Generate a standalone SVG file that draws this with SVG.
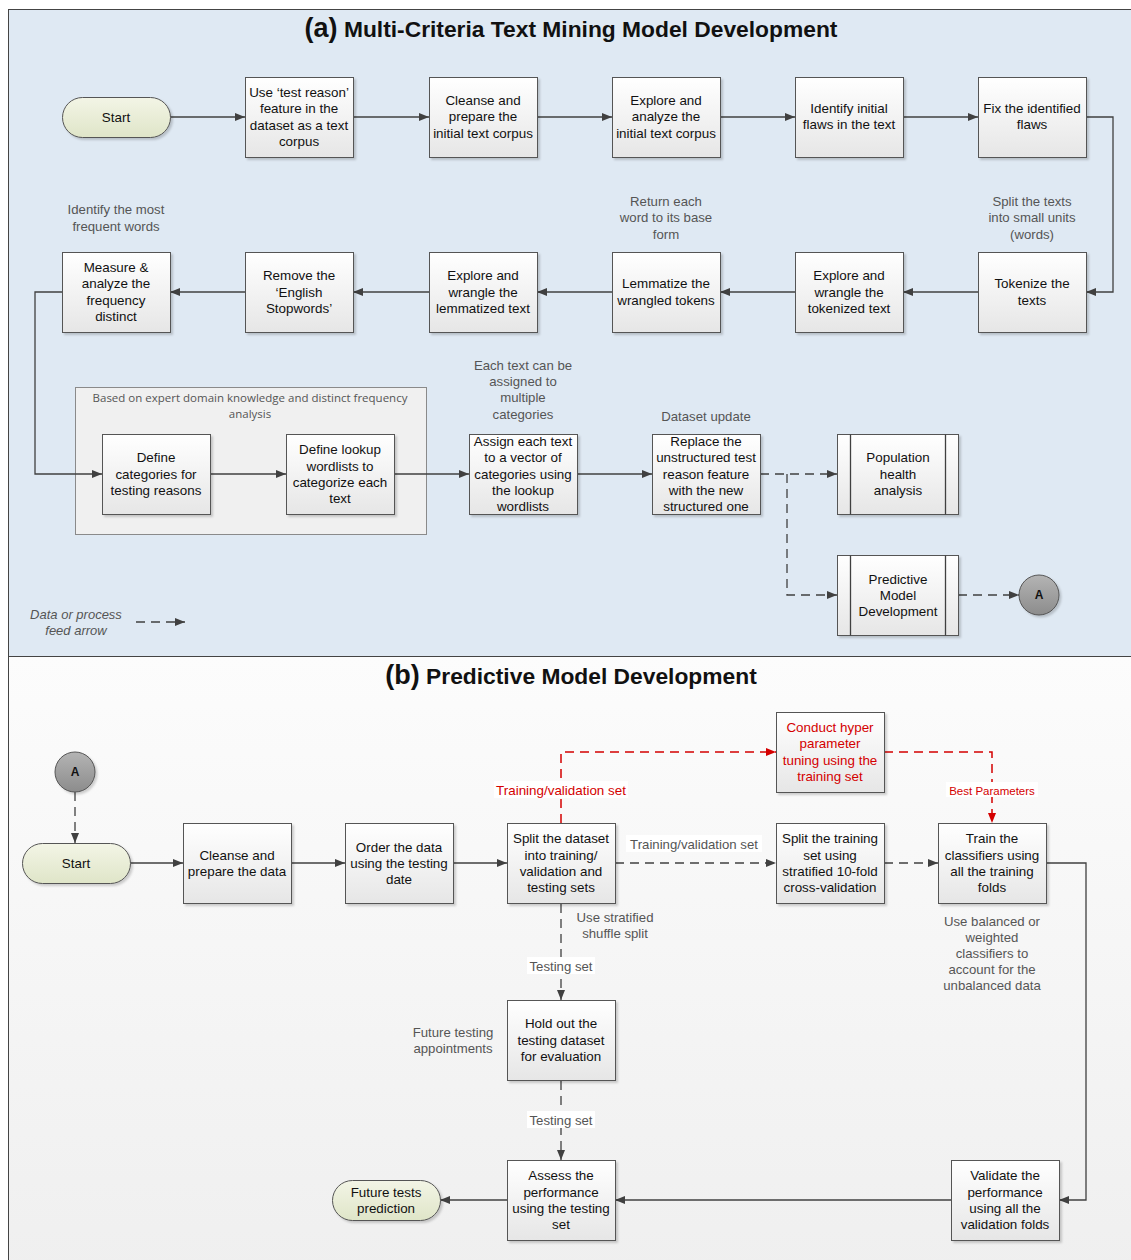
<svg xmlns="http://www.w3.org/2000/svg" width="1131" height="1260" viewBox="0 0 1131 1260">
<style>
.nt{font-family:"Liberation Sans",Arial,sans-serif;font-size:13.4px;fill:#111;text-anchor:middle}
.an{font-family:"Liberation Sans",Arial,sans-serif;font-size:13.2px;fill:#555;text-anchor:middle}
.rd{font-family:"Liberation Sans",Arial,sans-serif;font-size:13.4px;fill:#d40000;text-anchor:middle}
.ttl{font-family:"Liberation Sans",Arial,sans-serif;font-weight:bold;fill:#111;text-anchor:middle}
.box{fill:url(#gBox);stroke:#555;stroke-width:1;filter:url(#sh)}
.pill{fill:url(#gPill);stroke:#555;stroke-width:1;filter:url(#sh)}
.circ{fill:url(#gCirc);stroke:#555;stroke-width:1;filter:url(#sh)}
.ln{fill:none;stroke:#404040;stroke-width:1.3}
.sol{fill:none;stroke:#404040;stroke-width:1.3;marker-end:url(#ah)}
.dsh{fill:none;stroke:#404040;stroke-width:1.3;stroke-dasharray:9,6;marker-end:url(#ah)}
.redA{fill:none;stroke:#d40000;stroke-width:1.5;stroke-dasharray:9,6;marker-end:url(#ahr)}
.lbg{fill:#ffffff}
</style>
<defs>
<linearGradient id="gBox" x1="0" y1="0" x2="0" y2="1"><stop offset="0" stop-color="#ffffff"/><stop offset="1" stop-color="#e6e6e6"/></linearGradient>
<linearGradient id="gPill" x1="0" y1="0" x2="0" y2="1"><stop offset="0" stop-color="#f3f5e6"/><stop offset="1" stop-color="#dfe5c8"/></linearGradient>
<linearGradient id="gCirc" x1="0" y1="0" x2="0" y2="1"><stop offset="0" stop-color="#b4b4b4"/><stop offset="1" stop-color="#8c8c8c"/></linearGradient>
<linearGradient id="gB" x1="0" y1="0" x2="0" y2="1"><stop offset="0" stop-color="#fcfcfc"/><stop offset="1" stop-color="#efefef"/></linearGradient>
<filter id="sh" x="-10%" y="-10%" width="130%" height="130%"><feDropShadow dx="2" dy="2" stdDeviation="1.2" flood-color="#000" flood-opacity="0.18"/></filter>
<marker id="ah" markerWidth="10" markerHeight="8" refX="10" refY="4" orient="auto" markerUnits="userSpaceOnUse"><path d="M0,0 L10,4 L0,8 Z" fill="#404040"/></marker>
<marker id="ahr" markerWidth="10" markerHeight="8" refX="10" refY="4" orient="auto" markerUnits="userSpaceOnUse"><path d="M0,0 L10,4 L0,8 Z" fill="#d40000"/></marker>
</defs>

<!-- panels -->
<rect x="0" y="0" width="1131" height="1260" fill="#ffffff"/>
<rect x="8.5" y="9.5" width="1140" height="647" fill="#dfe9f3" stroke="#444" stroke-width="1"/>
<rect x="8.5" y="656.5" width="1140" height="620" fill="url(#gB)" stroke="#444" stroke-width="1"/>

<text class="ttl" x="571" y="37"><tspan font-size="27">(a)</tspan><tspan font-size="22.8"> Multi-Criteria Text Mining Model Development</tspan></text>
<text class="ttl" x="571" y="684"><tspan font-size="27">(b)</tspan><tspan font-size="22.8"> Predictive Model Development</tspan></text>

<!-- group container -->
<g id="container">
<rect x="75.5" y="387.5" width="351" height="147" fill="#f0f0f0" stroke="#8a8a8a" stroke-width="1"/>
<text font-family="'Open Sans','Liberation Sans',sans-serif" font-size="11.5" fill="#555" text-anchor="middle"><tspan x="250" y="402">Based on expert domain knowledge and distinct frequency</tspan><tspan x="250" y="418">analysis</tspan></text>
</g>

<!-- connectors -->
<g id="connectors">
<path class="sol" d="M170,117 H245"/>
<path class="sol" d="M353,117 H429"/>
<path class="sol" d="M537,117 H612"/>
<path class="sol" d="M720,117 H795"/>
<path class="sol" d="M903,117 H978"/>
<path class="sol" d="M1086,117 H1113 V292 H1086"/>
<path class="sol" d="M978,292 H903"/>
<path class="sol" d="M795,292 H720"/>
<path class="sol" d="M612,292 H537"/>
<path class="sol" d="M429,292 H353"/>
<path class="sol" d="M245,292 H170"/>
<path class="sol" d="M62,292 H35 V474 H102"/>
<path class="sol" d="M210,474 H286"/>
<path class="sol" d="M394,474 H469"/>
<path class="sol" d="M577,474 H652"/>
<path class="dsh" d="M760,474 H837"/>
<path class="dsh" d="M787,474 V595 H837"/>
<path class="dsh" d="M958,595 H1019"/>
<path class="dsh" d="M136,622 H185"/>

<!-- panel b -->
<path class="dsh" d="M75,792 V843"/>
<path class="sol" d="M130,863 H183"/>
<path class="sol" d="M291,863 H345"/>
<path class="sol" d="M453,863 H507"/>
<path class="dsh" d="M615,863 H776"/>
<path class="dsh" d="M884,863 H938"/>
<path class="redA" d="M561,823 V752 H776"/>
<path class="redA" d="M884,752 H992 V823"/>
<path class="sol" d="M1046,863 H1086 V1200 H1059"/>
<path class="sol" d="M951,1200 H615"/>
<path class="sol" d="M507,1200 H440"/>
<path class="dsh" d="M561,904 V1000"/>
<path class="dsh" d="M561,1081 V1160"/>
</g>

<!-- legend -->
<text font-family="'Liberation Sans',Arial,sans-serif" font-size="13" font-style="italic" fill="#555" text-anchor="middle"><tspan x="76" y="619">Data or process</tspan><tspan x="76" y="635">feed arrow</tspan></text>

<!-- annotations panel a -->
<text class="an"><tspan x="116" y="214">Identify the most</tspan><tspan x="116" y="231">frequent words</tspan></text>
<text class="an"><tspan x="666" y="206">Return each</tspan><tspan x="666" y="222">word to its base</tspan><tspan x="666" y="239">form</tspan></text>
<text class="an"><tspan x="1032" y="206">Split the texts</tspan><tspan x="1032" y="222">into small units</tspan><tspan x="1032" y="239">(words)</tspan></text>
<text class="an"><tspan x="523" y="370">Each text can be</tspan><tspan x="523" y="386">assigned to</tspan><tspan x="523" y="402">multiple</tspan><tspan x="523" y="419">categories</tspan></text>
<text class="an" x="706" y="421">Dataset update</text>

<!-- nodes panel a -->
<g id="start-a"><rect class="pill" x="62.5" y="97.5" width="108" height="40" rx="20"/><text class="nt" x="116" y="122">Start</text></g>
<g id="n1"><rect class="box" x="245.5" y="77.5" width="108" height="80"/><text class="nt"><tspan x="299" y="97">Use ‘test reason’</tspan><tspan x="299" y="113">feature in the</tspan><tspan x="299" y="130">dataset as a text</tspan><tspan x="299" y="146">corpus</tspan></text></g>
<g id="n2"><rect class="box" x="429.5" y="77.5" width="108" height="80"/><text class="nt"><tspan x="483" y="105">Cleanse and</tspan><tspan x="483" y="121">prepare the</tspan><tspan x="483" y="138">initial text corpus</tspan></text></g>
<g id="n3"><rect class="box" x="612.5" y="77.5" width="108" height="80"/><text class="nt"><tspan x="666" y="105">Explore and</tspan><tspan x="666" y="121">analyze the</tspan><tspan x="666" y="138">initial text corpus</tspan></text></g>
<g id="n4"><rect class="box" x="795.5" y="77.5" width="108" height="80"/><text class="nt"><tspan x="849" y="113">Identify initial</tspan><tspan x="849" y="129">flaws in the text</tspan></text></g>
<g id="n5"><rect class="box" x="978.5" y="77.5" width="108" height="80"/><text class="nt"><tspan x="1032" y="113">Fix the identified</tspan><tspan x="1032" y="129">flaws</tspan></text></g>

<g id="n6"><rect class="box" x="978.5" y="252.5" width="108" height="80"/><text class="nt"><tspan x="1032" y="288">Tokenize the</tspan><tspan x="1032" y="305">texts</tspan></text></g>
<g id="n7"><rect class="box" x="795.5" y="252.5" width="108" height="80"/><text class="nt"><tspan x="849" y="280">Explore and</tspan><tspan x="849" y="297">wrangle the</tspan><tspan x="849" y="313">tokenized text</tspan></text></g>
<g id="n8"><rect class="box" x="612.5" y="252.5" width="108" height="80"/><text class="nt"><tspan x="666" y="288">Lemmatize the</tspan><tspan x="666" y="305">wrangled tokens</tspan></text></g>
<g id="n9"><rect class="box" x="429.5" y="252.5" width="108" height="80"/><text class="nt"><tspan x="483" y="280">Explore and</tspan><tspan x="483" y="297">wrangle the</tspan><tspan x="483" y="313">lemmatized text</tspan></text></g>
<g id="n10"><rect class="box" x="245.5" y="252.5" width="108" height="80"/><text class="nt"><tspan x="299" y="280">Remove the</tspan><tspan x="299" y="297">‘English</tspan><tspan x="299" y="313">Stopwords’</tspan></text></g>
<g id="n11"><rect class="box" x="62.5" y="252.5" width="108" height="80"/><text class="nt"><tspan x="116" y="272">Measure &amp;</tspan><tspan x="116" y="288">analyze the</tspan><tspan x="116" y="305">frequency</tspan><tspan x="116" y="321">distinct</tspan></text></g>

<g id="n12"><rect class="box" x="102.5" y="434.5" width="108" height="80"/><text class="nt"><tspan x="156" y="462">Define</tspan><tspan x="156" y="479">categories for</tspan><tspan x="156" y="495">testing reasons</tspan></text></g>
<g id="n13"><rect class="box" x="286.5" y="434.5" width="108" height="80"/><text class="nt"><tspan x="340" y="454">Define lookup</tspan><tspan x="340" y="471">wordlists to</tspan><tspan x="340" y="487">categorize each</tspan><tspan x="340" y="503">text</tspan></text></g>
<g id="n14"><rect class="box" x="469.5" y="434.5" width="108" height="80"/><text class="nt"><tspan x="523" y="446">Assign each text</tspan><tspan x="523" y="462">to a vector of</tspan><tspan x="523" y="479">categories using</tspan><tspan x="523" y="495">the lookup</tspan><tspan x="523" y="511">wordlists</tspan></text></g>
<g id="n15"><rect class="box" x="652.5" y="434.5" width="108" height="80"/><text class="nt"><tspan x="706" y="446">Replace the</tspan><tspan x="706" y="462">unstructured test</tspan><tspan x="706" y="479">reason feature</tspan><tspan x="706" y="495">with the new</tspan><tspan x="706" y="511">structured one</tspan></text></g>
<g id="n16"><rect class="box" x="837.5" y="434.5" width="121" height="80"/><path class="ln" d="M850.5,434.5 V514.5 M945.5,434.5 V514.5" stroke-width="1"/><text class="nt"><tspan x="898" y="462">Population</tspan><tspan x="898" y="479">health</tspan><tspan x="898" y="495">analysis</tspan></text></g>
<g id="n17"><rect class="box" x="837.5" y="555.5" width="121" height="80"/><path class="ln" d="M850.5,555.5 V635.5 M945.5,555.5 V635.5" stroke-width="1"/><text class="nt"><tspan x="898" y="584">Predictive</tspan><tspan x="898" y="600">Model</tspan><tspan x="898" y="616">Development</tspan></text></g>
<g id="a-out"><circle class="circ" cx="1039" cy="595" r="20"/><text font-family="'Liberation Sans',Arial,sans-serif" font-size="12" font-weight="bold" fill="#111" text-anchor="middle" x="1039" y="599">A</text></g>

<!-- panel b labels -->
<rect class="lbg" x="626" y="835" width="136" height="17"/>
<text class="an" x="694" y="849">Training/validation set</text>
<rect class="lbg" x="494" y="781" width="134" height="17"/>
<text class="rd" x="561" y="795">Training/validation set</text>
<rect class="lbg" x="946" y="782" width="92" height="15"/>
<text class="rd" x="992" y="795" style="font-size:11.5px">Best Parameters</text>
<rect class="lbg" x="527" y="957" width="68" height="17"/>
<text class="an" x="561" y="971">Testing set</text>
<rect class="lbg" x="527" y="1111" width="68" height="17"/>
<text class="an" x="561" y="1125">Testing set</text>
<text class="an"><tspan x="615" y="922">Use stratified</tspan><tspan x="615" y="938">shuffle split</tspan></text>
<text class="an"><tspan x="992" y="926">Use balanced or</tspan><tspan x="992" y="942">weighted</tspan><tspan x="992" y="958">classifiers to</tspan><tspan x="992" y="974">account for the</tspan><tspan x="992" y="990">unbalanced data</tspan></text>
<text class="an"><tspan x="453" y="1037">Future testing</tspan><tspan x="453" y="1053">appointments</tspan></text>

<!-- nodes panel b -->
<g id="a-in"><circle class="circ" cx="75" cy="772" r="20"/><text font-family="'Liberation Sans',Arial,sans-serif" font-size="12" font-weight="bold" fill="#111" text-anchor="middle" x="75" y="776">A</text></g>
<g id="start-b"><rect class="pill" x="22.5" y="843.5" width="108" height="40" rx="20"/><text class="nt" x="76" y="868">Start</text></g>
<g id="b1"><rect class="box" x="183.5" y="823.5" width="108" height="80"/><text class="nt"><tspan x="237" y="860">Cleanse and</tspan><tspan x="237" y="876">prepare the data</tspan></text></g>
<g id="b2"><rect class="box" x="345.5" y="823.5" width="108" height="80"/><text class="nt"><tspan x="399" y="852">Order the data</tspan><tspan x="399" y="868">using the testing</tspan><tspan x="399" y="884">date</tspan></text></g>
<g id="b3"><rect class="box" x="507.5" y="823.5" width="108" height="80"/><text class="nt"><tspan x="561" y="843">Split the dataset</tspan><tspan x="561" y="860">into training/</tspan><tspan x="561" y="876">validation and</tspan><tspan x="561" y="892">testing sets</tspan></text></g>
<g id="b4"><rect class="box" x="776.5" y="823.5" width="108" height="80"/><text class="nt"><tspan x="830" y="843">Split the training</tspan><tspan x="830" y="860">set using</tspan><tspan x="830" y="876">stratified 10-fold</tspan><tspan x="830" y="892">cross-validation</tspan></text></g>
<g id="b5"><rect class="box" x="938.5" y="823.5" width="108" height="80"/><text class="nt"><tspan x="992" y="843">Train the</tspan><tspan x="992" y="860">classifiers using</tspan><tspan x="992" y="876">all the training</tspan><tspan x="992" y="892">folds</tspan></text></g>
<g id="b6"><rect class="box" x="776.5" y="712.5" width="108" height="80"/><text class="rd"><tspan x="830" y="732">Conduct hyper</tspan><tspan x="830" y="748">parameter</tspan><tspan x="830" y="765">tuning using the</tspan><tspan x="830" y="781">training set</tspan></text></g>
<g id="b7"><rect class="box" x="507.5" y="1000.5" width="108" height="80"/><text class="nt"><tspan x="561" y="1028">Hold out the</tspan><tspan x="561" y="1045">testing dataset</tspan><tspan x="561" y="1061">for evaluation</tspan></text></g>
<g id="b8"><rect class="box" x="507.5" y="1160.5" width="108" height="80"/><text class="nt"><tspan x="561" y="1180">Assess the</tspan><tspan x="561" y="1197">performance</tspan><tspan x="561" y="1213">using the testing</tspan><tspan x="561" y="1229">set</tspan></text></g>
<g id="b9"><rect class="box" x="951.5" y="1160.5" width="108" height="80"/><text class="nt"><tspan x="1005" y="1180">Validate the</tspan><tspan x="1005" y="1197">performance</tspan><tspan x="1005" y="1213">using all the</tspan><tspan x="1005" y="1229">validation folds</tspan></text></g>
<g id="b10"><rect class="pill" x="332.5" y="1180.5" width="108" height="40" rx="20"/><text class="nt"><tspan x="386" y="1197">Future tests</tspan><tspan x="386" y="1213">prediction</tspan></text></g>
</svg>
